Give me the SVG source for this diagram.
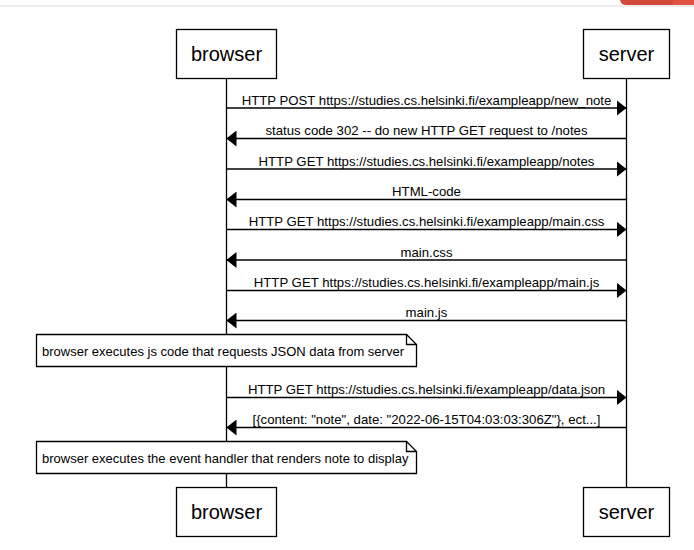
<svg xmlns="http://www.w3.org/2000/svg" width="694" height="550" viewBox="0 0 694 550">
<style>
.actor rect{fill:#fff;stroke:#000;stroke-width:1.3}
.actor text{font-family:"Liberation Sans",Arial,sans-serif;font-size:20px;text-anchor:middle;fill:#000}
.life{stroke:#000;stroke-width:1.3}
.msg line{stroke:#000;stroke-width:1.3}
.lbl{font-family:"Liberation Sans",Arial,sans-serif;font-size:13.2px;text-anchor:middle;fill:#000}
.note path{fill:#fff;stroke:#000;stroke-width:1.3}
.note text{font-family:"Liberation Sans",Arial,sans-serif;font-size:13px;fill:#000}
</style>
<defs>
<marker id="ah" viewBox="0 0 10 16" refX="10" refY="8" markerWidth="10" markerHeight="16" markerUnits="userSpaceOnUse" orient="auto">
<path d="M0,0 L10,8 L0,16 Z" fill="#000"/>
</marker>
</defs>
<rect x="0" y="0" width="694" height="550" fill="#fff"/>
<line x1="0" y1="6" x2="694" y2="6" stroke="#e6e6e6" stroke-width="1.5"/>
<path d="M620,0 H673 V5 H626 Q621,5 620,0 Z" fill="#d44a3a"/>
<rect x="673" y="0" width="21" height="5" fill="#e0523f"/>

<g id="lifelines">
<line class="life" x1="226.5" y1="78" x2="226.5" y2="487"/>
<line class="life" x1="626.5" y1="78" x2="626.5" y2="487"/>
</g>

<g id="browser-top" class="actor"><rect x="176.5" y="29.5" width="100" height="49"/><text x="226.5" y="61">browser</text></g>
<g id="server-top" class="actor"><rect x="583.5" y="29.5" width="86" height="49"/><text x="626.5" y="61">server</text></g>
<g id="browser-bottom" class="actor"><rect x="176.5" y="487.5" width="100" height="49"/><text x="226.5" y="519">browser</text></g>
<g id="server-bottom" class="actor"><rect x="583.5" y="487.5" width="86" height="49"/><text x="626.5" y="519">server</text></g>

<g id="connectors" class="msg">
<line x1="226.5" y1="108" x2="626.5" y2="108" marker-end="url(#ah)"/>
<text class="lbl" x="426.5" y="105">HTTP POST https://studies.cs.helsinki.fi/exampleapp/new_note</text>
<line x1="626.5" y1="138.5" x2="226.5" y2="138.5" marker-end="url(#ah)"/>
<text class="lbl" x="426.5" y="135">status code 302 -- do new HTTP GET request to /notes</text>
<line x1="226.5" y1="169" x2="626.5" y2="169" marker-end="url(#ah)"/>
<text class="lbl" x="426.5" y="166">HTTP GET https://studies.cs.helsinki.fi/exampleapp/notes</text>
<line x1="626.5" y1="199.5" x2="226.5" y2="199.5" marker-end="url(#ah)"/>
<text class="lbl" x="426.5" y="196">HTML-code</text>
<line x1="226.5" y1="229.5" x2="626.5" y2="229.5" marker-end="url(#ah)"/>
<text class="lbl" x="426.5" y="226">HTTP GET https://studies.cs.helsinki.fi/exampleapp/main.css</text>
<line x1="626.5" y1="260" x2="226.5" y2="260" marker-end="url(#ah)"/>
<text class="lbl" x="426.5" y="257">main.css</text>
<line x1="226.5" y1="290.5" x2="626.5" y2="290.5" marker-end="url(#ah)"/>
<text class="lbl" x="426.5" y="287">HTTP GET https://studies.cs.helsinki.fi/exampleapp/main.js</text>
<line x1="626.5" y1="320.5" x2="226.5" y2="320.5" marker-end="url(#ah)"/>
<text class="lbl" x="426.5" y="317">main.js</text>
<line x1="226.5" y1="397.5" x2="626.5" y2="397.5" marker-end="url(#ah)"/>
<text class="lbl" x="426.5" y="394">HTTP GET https://studies.cs.helsinki.fi/exampleapp/data.json</text>
<line x1="626.5" y1="427.5" x2="226.5" y2="427.5" marker-end="url(#ah)"/>
<text class="lbl" x="426.5" y="424">[{content: "note", date: "2022-06-15T04:03:03:306Z"}, ect...]</text>
</g>

<g id="note1" class="note">
<path d="M36.5,334.5 H406.5 L416.5,344.5 V366.5 H36.5 Z M406.5,334.5 V344.5 H416.5"/>
<text x="42" y="355.5">browser executes js code that requests JSON data from server</text>
</g>
<g id="note2" class="note">
<path d="M36.5,441.5 H406.5 L416.5,451.5 V473.5 H36.5 Z M406.5,441.5 V451.5 H416.5"/>
<text x="42" y="462.5">browser executes the event handler that renders note to display</text>
</g>
</svg>
